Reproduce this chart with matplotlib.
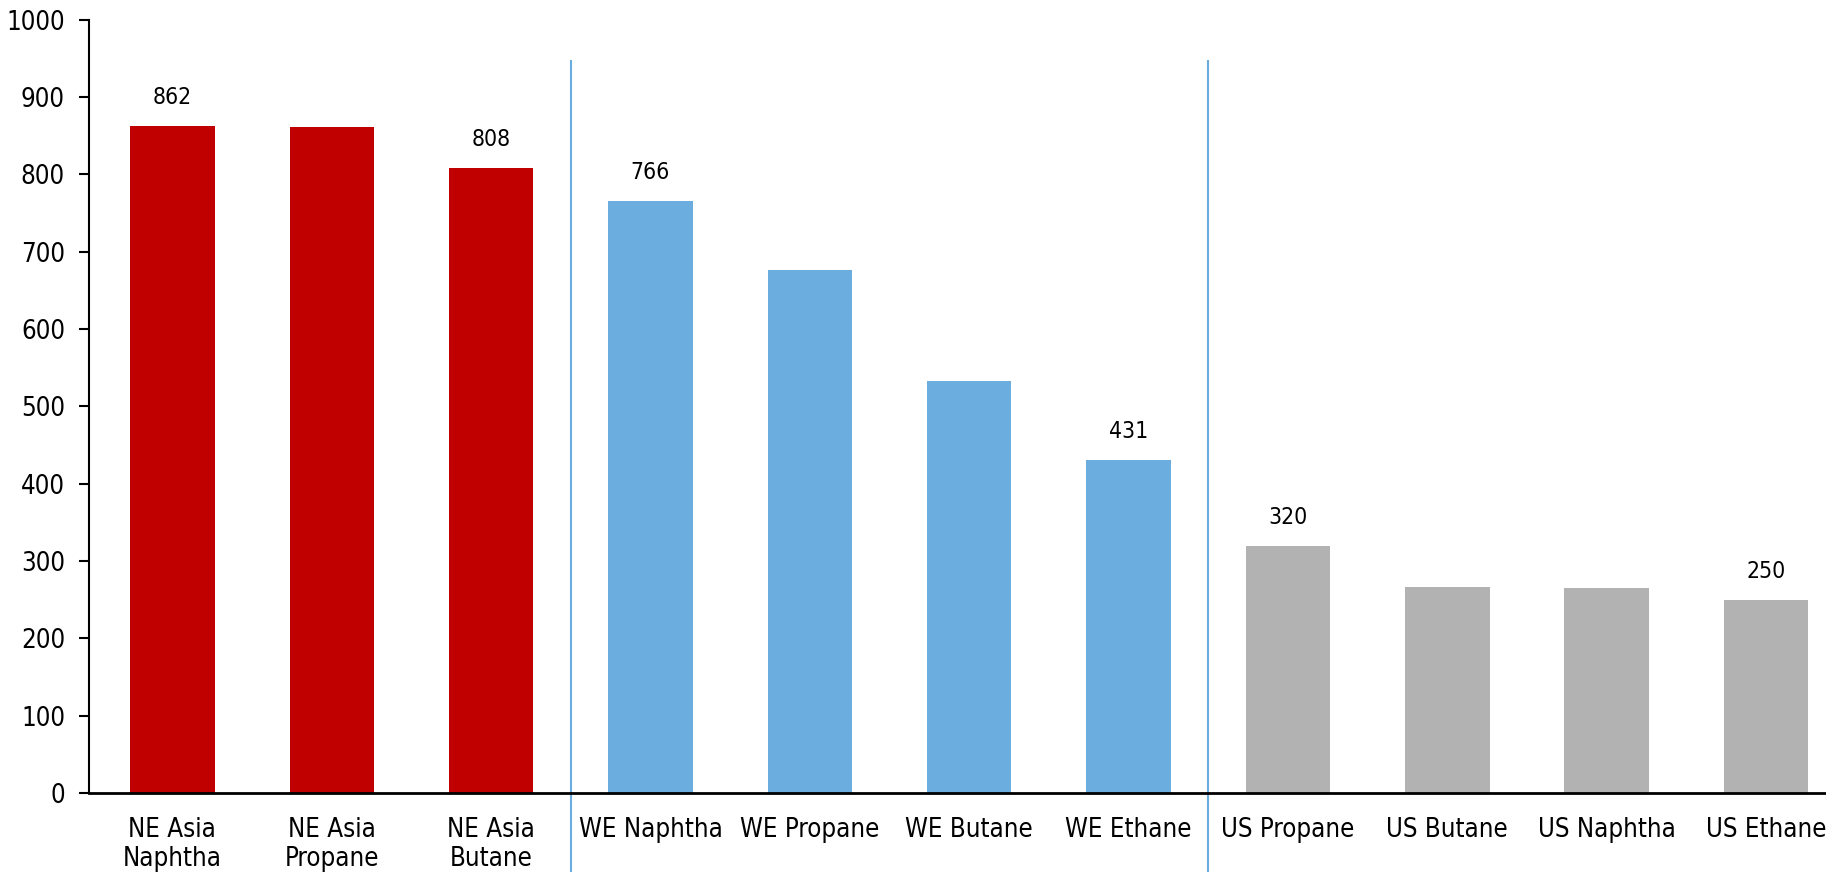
import numpy as np
import matplotlib
matplotlib.use("Agg")
import matplotlib.pyplot as plt

categories = ["NE Asia\nNaphtha", "NE Asia\nPropane", "NE Asia\nButane",
              "WE Naphtha", "WE Propane", "WE Butane", "WE Ethane",
              "US Propane", "US Butane", "US Naphtha", "US Ethane"]
values = [862, 861, 808, 766, 677, 533, 431, 320, 267, 265, 250]
shown_labels = [862, None, 808, 766, None, None, 431, 320, None, None, 250]
group_colors = ["#C00000"] * 3 + ["#6CADDF"] * 4 + ["#B2B2B2"] * 4
separators = [2.5, 6.5]
yticks = [0, 100, 200, 300, 400, 500, 600, 700, 800, 900, 1000]

plt.rcParams['font.family'] = ['DejaVu Sans']
plt.rcParams['font.stretch'] = 'condensed'

fig = plt.figure(figsize=(18.26, 8.72), dpi=100)
ax = fig.add_axes([0.0485, 0.0906, 0.9515, 0.8867])

x = np.arange(len(categories))
ax.bar(x, values, width=0.53, color=group_colors)

for xi, lab, v in zip(x, shown_labels, values):
    if lab is not None:
        ax.text(xi, v + 22, str(lab), ha='center', va='bottom', fontsize=16.5)

for s in separators:
    ax.plot([s, s], [-115, 947], color="#6CADDF", lw=1.5, clip_on=False, zorder=0)

ax.set_xlim(-0.526, 10.376)
ax.set_ylim(0, 1000)
ax.set_yticks(yticks)
ax.set_xticks(x)
ax.set_xticklabels(categories, fontsize=18.5, linespacing=1.15)
ax.tick_params(axis='y', labelsize=18.5, length=7, width=1.5, direction='out', pad=10)
ax.tick_params(axis='x', length=0, pad=17)

for side in ['top', 'right']:
    ax.spines[side].set_visible(False)
ax.spines['left'].set_linewidth(1.5)
ax.spines['bottom'].set_linewidth(2)

fig.savefig("out.png", dpi=100)
